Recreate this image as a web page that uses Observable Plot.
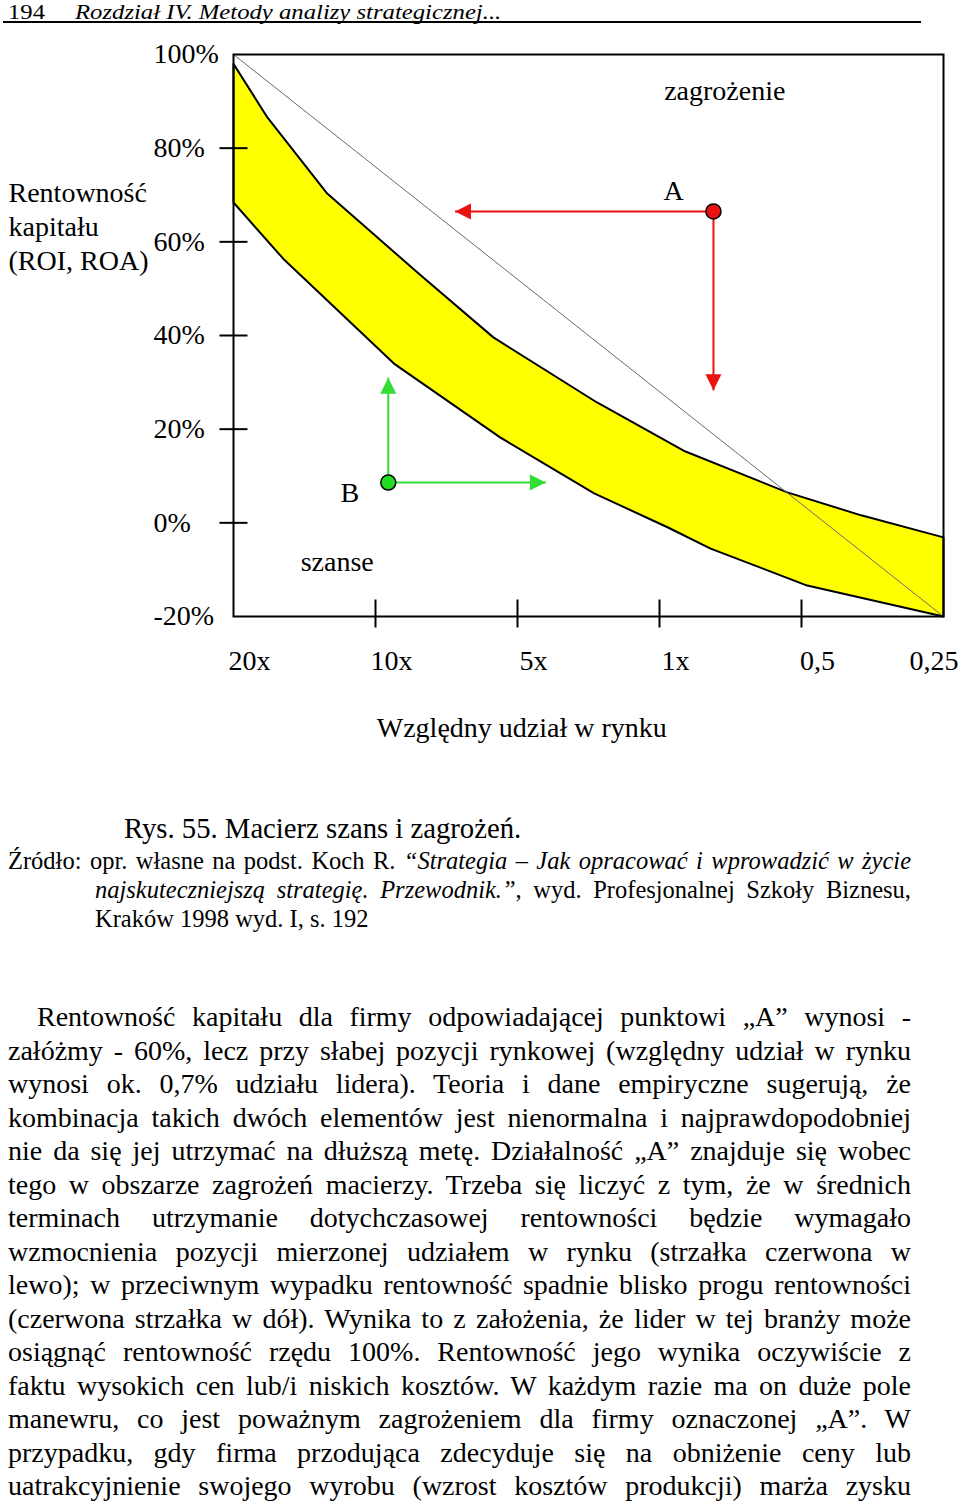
<!DOCTYPE html>
<html><head><meta charset="utf-8">
<script src="https://cdn.jsdelivr.net/npm/d3@7"></script>
<script src="https://cdn.jsdelivr.net/npm/@observablehq/plot@0.6"></script>
<style>
body{margin:0;background:#fff;font-family:"Liberation Serif","Times New Roman",serif;color:#000;}
#page{position:relative;width:960px;height:1505px;overflow:hidden;background:#fff;}
.abs{position:absolute;}
.hdr{font-size:20px;line-height:20px;top:1.5px;transform-origin:0 0;transform:scaleX(1.235);white-space:nowrap;}
</style></head><body><div id="page">
<div class="abs hdr" style="left:8px;">194</div>
<div class="abs hdr" style="left:75px;font-style:italic;">Rozdział IV. Metody analizy strategicznej...</div>
<div class="abs" style="left:3px;top:21px;width:918px;height:2px;background:#000"></div>
<div id="chart" class="abs" style="left:0;top:26px;"></div>
</div>
<script>
// ---- data ----
const xTickLabels = ["20x", "10x", "5x", "1x", "0,5", "0,25"];
const xTickIndex = [0, 1, 2, 3, 4, 5];
const xTickMarks = [1, 2, 3, 4];
const yTickValues = [-20, 0, 20, 40, 60, 80, 100];
const yTickMarks = [0, 20, 40, 60, 80];

const upperX = [0, 0.24, 0.66, 1.32, 1.83, 2.56, 3.17, 3.90, 4.42, 5];
const upperY = [98, 86.5, 70.3, 52.8, 39.6, 25.7, 15.4, 6.5, 1.6, -3.1];
const lowerX = [0, 0.35, 1.13, 1.88, 2.54, 3.06, 3.36, 4.04, 5];
const lowerY = [68.4, 56.4, 34.0, 18.2, 6.3, -1.0, -5.5, -13.4, -20];

const diagX = [0, 5];
const diagY = [100, -20];

const pointNames = ["A", "B"];
const pointX = [3.38, 1.09];
const pointY = [66.5, 8.6];
const pointColors = ["#ee1111", "#22dd22"];

const arrowFrom = ["A", "A", "B", "B"];
const arrowToX = [1.56, 3.38, 1.09, 2.20];
const arrowToY = [66.5, 28.3, 31.0, 8.6];
const arrowDir = ["left", "down", "up", "right"];
const arrowColors = ["#ee1111", "#ee1111", "#33dd33", "#33dd33"];

const annText = ["zagrożenie", "A", "B", "szanse"];
const annX = [3.46, 3.10, 0.82, 0.73];
const annY = [92.1, 70.8, 6.3, -8.3];

const yTitle = "Rentowność\nkapitału\n(ROI, ROA)";
const yTitleY = 63.5;
const xTitle = "Względny udział w rynku";
const xTitleX = 2.03;

const captionText = "Rys. 55. Macierz szans i zagrożeń.";
const sourceLines = [
  "Źródło: opr. własne na podst. Koch R. <i>“Strategia – Jak opracować i wprowadzić w życie</i>",
  "<i>najskuteczniejszą strategię. Przewodnik.”</i>, wyd. Profesjonalnej Szkoły Biznesu,",
  "Kraków 1998 wyd. I, s. 192"
];
const bodyLines = [
  "Rentowność kapitału dla firmy odpowiadającej punktowi „A” wynosi -",
  "załóżmy - 60%, lecz przy słabej pozycji rynkowej (względny udział w rynku",
  "wynosi ok. 0,7% udziału lidera). Teoria i dane empiryczne sugerują, że",
  "kombinacja takich dwóch elementów jest nienormalna i najprawdopodobniej",
  "nie da się jej utrzymać na dłuższą metę. Działalność „A” znajduje się wobec",
  "tego w obszarze zagrożeń macierzy. Trzeba się liczyć z tym, że w średnich",
  "terminach utrzymanie dotychczasowej rentowności będzie wymagało",
  "wzmocnienia pozycji mierzonej udziałem w rynku (strzałka czerwona w",
  "lewo); w przeciwnym wypadku rentowność spadnie blisko progu rentowności",
  "(czerwona strzałka w dół). Wynika to z założenia, że lider w tej branży może",
  "osiągnąć rentowność rzędu 100%. Rentowność jego wynika oczywiście z",
  "faktu wysokich cen lub/i niskich kosztów. W każdym razie ma on duże pole",
  "manewru, co jest poważnym zagrożeniem dla firmy oznaczonej „A”. W",
  "przypadku, gdy firma przodująca zdecyduje się na obniżenie ceny lub",
  "uatrakcyjnienie  swojego wyrobu (wzrost kosztów produkcji) marża zysku"
];

// ---- derived tables ----
const band = [
  ...upperX.map((x, i) => ({x, y: upperY[i]})),
  ...lowerX.map((x, i) => ({x, y: lowerY[i]})).reverse()
];
band.push(band[0]);
const diag = diagX.map((x, i) => ({x, y: diagY[i]}));
const points = pointNames.map((n, i) => ({name: n, x: pointX[i], y: pointY[i], color: pointColors[i]}));
const arrows = arrowFrom.map((f, i) => {
  const p = points.find(d => d.name === f);
  return {x1: p.x, y1: p.y, x2: arrowToX[i], y2: arrowToY[i], dir: arrowDir[i], color: arrowColors[i]};
});
const ann = annText.map((t, i) => ({text: t, x: annX[i], y: annY[i]}));

const heads = {
  left:  {draw(c){c.moveTo(0,0);c.lineTo(16,-8);c.lineTo(16,8);c.closePath();}},
  right: {draw(c){c.moveTo(0,0);c.lineTo(-16,-8);c.lineTo(-16,8);c.closePath();}},
  up:    {draw(c){c.moveTo(0,0);c.lineTo(-8,16);c.lineTo(8,16);c.closePath();}},
  down:  {draw(c){c.moveTo(0,0);c.lineTo(-8,-16);c.lineTo(8,-16);c.closePath();}}
};
const hTick = {draw(c){c.moveTo(-14,0);c.lineTo(14,0);}};
const vTick = {draw(c){c.moveTo(0,-17);c.lineTo(0,11);}};

const FF = "Liberation Serif, Times New Roman, serif";
const chart = Plot.plot({
  width: 960,
  height: 740,
  marginTop: 28,
  marginBottom: 150,
  marginLeft: 233,
  marginRight: 17,
  style: {fontFamily: FF, background: "transparent", color: "black"},
  x: {domain: [0, 5], axis: null},
  y: {domain: [-20, 100], axis: null},
  marks: [
    Plot.line(band, {x: "x", y: "y", fill: "#ffff00", stroke: "black", strokeWidth: 2, strokeLinejoin: "round"}),
    Plot.line(diag, {x: "x", y: "y", stroke: "#6a6a6a", strokeWidth: 1}),
    ...arrows.map(a => Plot.link([a], {x1: "x1", y1: "y1", x2: "x2", y2: "y2", stroke: a.color, strokeWidth: 2})),
    ...arrows.map(a => Plot.dot([a], {x: "x2", y: "y2", symbol: heads[a.dir], fill: a.color, stroke: "none"})),
    Plot.dot(points, {x: "x", y: "y", r: 7.5, fill: "color", stroke: "black", strokeWidth: 1.5}),
    Plot.frame({stroke: "black", strokeWidth: 2}),
    Plot.dot(yTickMarks, {y: d => d, frameAnchor: "left", symbol: hTick, stroke: "black", strokeWidth: 2, fill: "none"}),
    Plot.dot(xTickMarks, {x: d => d, frameAnchor: "bottom", symbol: vTick, stroke: "black", strokeWidth: 2, fill: "none"}),
    Plot.text(yTickValues, {y: d => d, text: d => `${d}%`, frameAnchor: "left", lineAnchor: "middle", dx: -80, textAnchor: "start", fontSize: 28, fontFamily: FF, fill: "black"}),
    Plot.text(xTickIndex.slice(0, 5), {x: d => d, text: i => xTickLabels[i], frameAnchor: "bottom", lineAnchor: "middle", dy: 45, dx: 16, fontSize: 28, fontFamily: FF, fill: "black"}),
    Plot.text(xTickIndex.slice(5), {x: d => d, text: i => xTickLabels[i], frameAnchor: "bottom", lineAnchor: "middle", dy: 45, dx: 15, textAnchor: "end", fontSize: 28, fontFamily: FF, fill: "black"}),
    Plot.text([yTitle], {y: yTitleY, text: d => d, frameAnchor: "left", lineAnchor: "middle", dx: -225, textAnchor: "start", lineHeight: 34 / 28, fontSize: 28, fontFamily: FF, fill: "black"}),
    Plot.text([xTitle], {x: xTitleX, text: d => d, frameAnchor: "bottom", lineAnchor: "middle", dy: 112, fontSize: 28, fontFamily: FF, fill: "black"}),
    Plot.text(ann, {x: "x", y: "y", text: "text", fontSize: 28, fontFamily: FF, fill: "black"})
  ]
});
document.getElementById("chart").appendChild(chart);

// ---- text below ----
const page = document.getElementById("page");
function addLine(html, left, top, right, fs, lh, justify) {
  const width = right - left;
  const d = document.createElement("div");
  d.style.cssText = `position:absolute;left:${left}px;top:${top}px;font-size:${fs}px;line-height:${lh}px;white-space:nowrap;`;
  const s = document.createElement("span");
  s.innerHTML = html;
  d.appendChild(s);
  page.appendChild(d);
  const w = s.getBoundingClientRect().width;
  if (w > width) {
    d.style.transformOrigin = "0 0";
    d.style.transform = `scaleX(${width / w})`;
  } else if (justify) {
    d.style.width = width + "px";
    d.style.whiteSpace = "normal";
    d.style.textAlign = "justify";
    d.style.textAlignLast = "justify";
  }
}
addLine(captionText, 124, 812, 960, 28.7, 33.5, false);
addLine(sourceLines[0], 8, 845.5, 911, 24.5, 29, true);
addLine(sourceLines[1], 95, 874.5, 911, 24.5, 29, true);
addLine(sourceLines[2], 95, 903.5, 911, 24.5, 29, false);
bodyLines.forEach((l, i) => addLine(l, i === 0 ? 37 : 8, 1000 + i * 33.5, 911, 28, 33.5, true));
</script>
</body></html>
